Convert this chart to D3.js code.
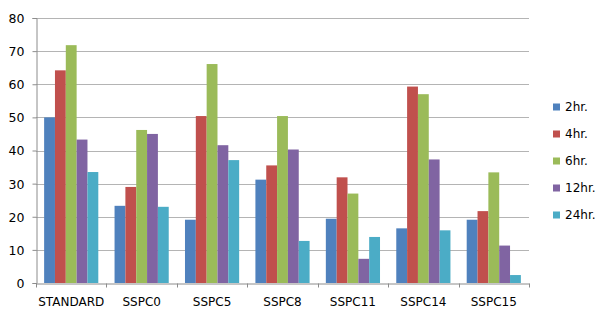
<!DOCTYPE html>
<html>
<head>
<meta charset="utf-8">
<script src="https://cdn.jsdelivr.net/npm/d3@7"></script>
<style>
  body { margin: 0; background: #fff; }
  text { font-family: "DejaVu Sans", sans-serif; fill: #000; }
</style>
</head>
<body>
<div class="canvas"></div>
<script>
// data
const categories = ['STANDARD', 'SSPC0', 'SSPC5', 'SSPC8', 'SSPC11', 'SSPC14', 'SSPC15'];
const seriesNames = ['2hr.', '4hr.', '6hr.', '12hr.', '24hr.'];
const hr2  = [50.0, 23.3, 19.1, 31.2, 19.4, 16.5, 19.1];
const hr4  = [64.2, 29.0, 50.4, 35.5, 31.9, 59.3, 21.7];
const hr6  = [71.8, 46.2, 66.1, 50.4, 27.0, 57.0, 33.4];
const hr12 = [43.3, 45.0, 41.6, 40.3, 7.3, 37.3, 11.3];
const hr24 = [33.5, 23.0, 37.1, 12.7, 13.9, 15.9, 2.4];
const yTicks = [0, 10, 20, 30, 40, 50, 60, 70, 80];
const colors = ['#4F81BD', '#C0504D', '#9BBB59', '#8064A2', '#4BACC6'];

const seriesValues = [hr2, hr4, hr6, hr12, hr24];

const width = 605, height = 320;
const margin = {top: 18, right: 76, bottom: 37, left: 36};
const graphWidth = width - margin.left - margin.right;
const graphHeight = height - margin.top - margin.bottom;

const svg = d3.select('.canvas')
  .append('svg')
  .attr('width', width)
  .attr('height', height);

const graph = svg.append('g')
  .attr('transform', `translate(${margin.left}, ${margin.top})`);

// scales
const y = d3.scaleLinear().domain([0, 80]).range([graphHeight, 0]);
const x0 = d3.scaleBand().domain(categories).range([0, graphWidth]).paddingInner(0).paddingOuter(0);
// excel style gap: 150% of a bar width split on both sides
const barW = x0.bandwidth() / (seriesNames.length + 1.5);
const x1 = d3.scaleBand().domain(seriesNames)
  .range([barW * 0.75, x0.bandwidth() - barW * 0.75]);

// gridlines
graph.append('g')
  .selectAll('line')
  .data(yTicks.filter(d => d > 0))
  .enter().append('line')
  .attr('x1', 0).attr('x2', graphWidth)
  .attr('y1', d => Math.round(y(d)) + 0.5).attr('y2', d => Math.round(y(d)) + 0.5)
  .attr('stroke', '#b4b4b4').attr('stroke-width', 1);

// bars
const groups = graph.selectAll('g.cat')
  .data(categories)
  .enter().append('g')
  .attr('class', 'cat')
  .attr('transform', d => `translate(${x0(d)}, 0)`);

groups.selectAll('rect')
  .data((c, ci) => seriesNames.map((s, si) => ({s, v: seriesValues[si][ci], i: si})))
  .enter().append('rect')
  .attr('x', d => x1(d.s))
  .attr('width', x1.bandwidth())
  .attr('y', d => y(d.v))
  .attr('height', d => graphHeight - y(d.v))
  .attr('fill', d => colors[d.i]);

// axes
const yAxis = d3.axisLeft(y).tickValues(yTicks).tickSize(4).tickPadding(8);
const yAxisGroup = graph.append('g').attr('transform', 'translate(0.5,0)').call(yAxis);
yAxisGroup.select('.domain').attr('stroke', '#8c8c8c');
yAxisGroup.selectAll('.tick line').attr('stroke', '#8c8c8c');
yAxisGroup.selectAll('text').style('font-size', '12.5px').attr('dy', '0.35em');

const xAxis = d3.axisBottom(x0).tickSize(0).tickPadding(14);
const xAxisGroup = graph.append('g')
  .attr('transform', `translate(0, ${graphHeight + 0.5})`)
  .call(xAxis);
xAxisGroup.select('.domain').attr('stroke', '#8c8c8c');
xAxisGroup.selectAll('text').style('font-size', '12px');

// category boundary ticks
xAxisGroup.selectAll('line.sep')
  .data(categories.map(c => x0(c)).concat([graphWidth]))
  .enter().append('line')
  .attr('class', 'sep')
  .attr('x1', d => Math.round(d) + 0.5).attr('x2', d => Math.round(d) + 0.5)
  .attr('y1', 0).attr('y2', 4)
  .attr('stroke', '#8c8c8c');

// legend
const legend = svg.append('g').attr('transform', 'translate(553, 107)');
const items = legend.selectAll('g')
  .data(seriesNames)
  .enter().append('g')
  .attr('transform', (d, i) => `translate(0, ${i * 27})`);
items.append('rect')
  .attr('x', 0).attr('y', -3.5)
  .attr('width', 7).attr('height', 7)
  .attr('fill', (d, i) => colors[i]);
items.append('text')
  .attr('x', 12).attr('dy', '0.35em')
  .style('font-size', '12px')
  .text(d => d);
</script>
</body>
</html>
